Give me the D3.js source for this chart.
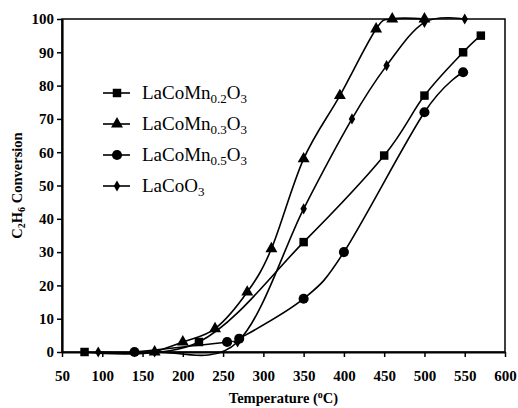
<!DOCTYPE html>
<html>
<head>
<meta charset="utf-8">
<script src="https://cdn.jsdelivr.net/npm/d3@7"></script>
<style>
  body { margin: 0; background: #fff; }
  svg { display: block; font-family: "Liberation Serif", "Times New Roman", serif; }
</style>
</head>
<body>
<div class="chart"></div>
<script>
// values: [temperature °C, conversion %]
const mn02 = [[78, 0], [220, 3], [350, 33], [450, 59], [500, 77], [548, 90], [570, 95]];
const mn03 = [[165, 0], [200, 3], [240, 7], [280, 18], [310, 31], [350, 58], [395, 77], [440, 97], [460, 100], [500, 100]];
const mn05 = [[140, 0], [255, 3], [270, 4], [350, 16], [400, 30], [500, 72], [548, 84]];
const coo3 = [[95, 0], [165, 0], [268, 3], [350, 43], [410, 70], [453, 86], [500, 99], [550, 100]];

const seriesNames = [["LaCoMn", "0.2", "O", "3"], ["LaCoMn", "0.3", "O", "3"], ["LaCoMn", "0.5", "O", "3"], ["LaCo", "", "O", "3"]];
const markers = ["square", "triangle", "circle", "diamond"];
const xTicks = d3.range(50, 601, 50);
const yTicks = d3.range(0, 101, 10);

const width = 518, height = 408;
const margin = { top: 19, right: 13, bottom: 56, left: 62 };

const svg = d3.select(".chart").append("svg")
  .attr("width", width)
  .attr("height", height);

const x = d3.scaleLinear().domain([50, 600]).range([margin.left, width - margin.right]);
const y = d3.scaleLinear().domain([0, 100]).range([height - margin.bottom, margin.top]);

// frame
svg.append("rect")
  .attr("x", x(50)).attr("y", y(100))
  .attr("width", x(600) - x(50)).attr("height", y(0) - y(100))
  .attr("fill", "none").attr("stroke", "#000").attr("stroke-width", 1.5);

const xAxis = svg.append("g")
  .attr("transform", `translate(0,${y(0)})`)
  .call(d3.axisBottom(x).tickValues(xTicks).tickSize(5).tickPadding(13).tickSizeOuter(0));
const yAxis = svg.append("g")
  .attr("transform", `translate(${x(50)},0)`)
  .call(d3.axisLeft(y).tickValues(yTicks).tickSize(5).tickPadding(3).tickSizeOuter(0));

[xAxis, yAxis].forEach((g) => {
  g.select(".domain").attr("stroke-width", 2.2);
  g.selectAll(".tick line").attr("stroke-width", 1.5);
  g.selectAll(".tick text")
    .attr("fill", "#000")
    .style("font-family", "'Liberation Serif', serif")
    .style("font-weight", "bold")
    .style("font-size", "15px");
});

const line = d3.line()
  .x((d) => x(d[0]))
  .y((d) => y(d[1]))
  .curve(d3.curveCardinal.tension(0));

const allSeries = [mn02, mn03, mn05, coo3];

const symbolFor = {
  square: d3.symbol(d3.symbolSquare, 72),
  triangle: d3.symbol(d3.symbolTriangle, 62),
  circle: d3.symbol(d3.symbolCircle, 80),
  diamond: d3.symbol(d3.symbolDiamond, 36),
};

allSeries.forEach((data, i) => {
  svg.append("path")
    .datum(data)
    .attr("fill", "none")
    .attr("stroke", "#000")
    .attr("stroke-width", 1.6)
    .attr("d", line);
  svg.append("g").selectAll("path")
    .data(data)
    .join("path")
    .attr("transform", (d) => `translate(${x(d[0])},${y(d[1])})`)
    .attr("d", symbolFor[markers[i]]())
    .attr("fill", "#000");
});

// legend
const legend = svg.append("g").attr("transform", "translate(103,93)");
seriesNames.forEach((parts, i) => {
  const row = legend.append("g").attr("transform", `translate(0,${i * 31})`);
  row.append("line").attr("x1", 0).attr("x2", 27).attr("stroke", "#000").attr("stroke-width", 1.6);
  row.append("path").attr("transform", "translate(14,0)").attr("d", symbolFor[markers[i]]()).attr("fill", "#000");
  const t = row.append("text").attr("x", 39).attr("y", 6).style("font-size", "19px");
  t.append("tspan").text(parts[0]);
  if (parts[1]) t.append("tspan").attr("dy", 4).style("font-size", "13px").text(parts[1]);
  t.append("tspan").attr("dy", parts[1] ? -4 : 0).text(parts[2]);
  t.append("tspan").attr("dy", 4).style("font-size", "13px").text(parts[3]);
});

// axis titles
const xt = svg.append("text")
  .attr("x", (x(50) + x(600)) / 2).attr("y", 403)
  .attr("text-anchor", "middle")
  .style("font-weight", "bold").style("font-size", "14.5px");
xt.append("tspan").text("Temperature (");
xt.append("tspan").attr("dy", -5).style("font-size", "10px").text("o");
xt.append("tspan").attr("dy", 5).text("C)");

const yt = svg.append("text")
  .attr("transform", `translate(22,${(y(0) + y(100)) / 2}) rotate(-90)`)
  .attr("text-anchor", "middle")
  .style("font-weight", "bold").style("font-size", "14.5px");
yt.append("tspan").text("C");
yt.append("tspan").attr("dy", 3).style("font-size", "10px").text("2");
yt.append("tspan").attr("dy", -3).text("H");
yt.append("tspan").attr("dy", 3).style("font-size", "10px").text("6");
yt.append("tspan").attr("dy", -3).text(" Conversion");
</script>
</body>
</html>
